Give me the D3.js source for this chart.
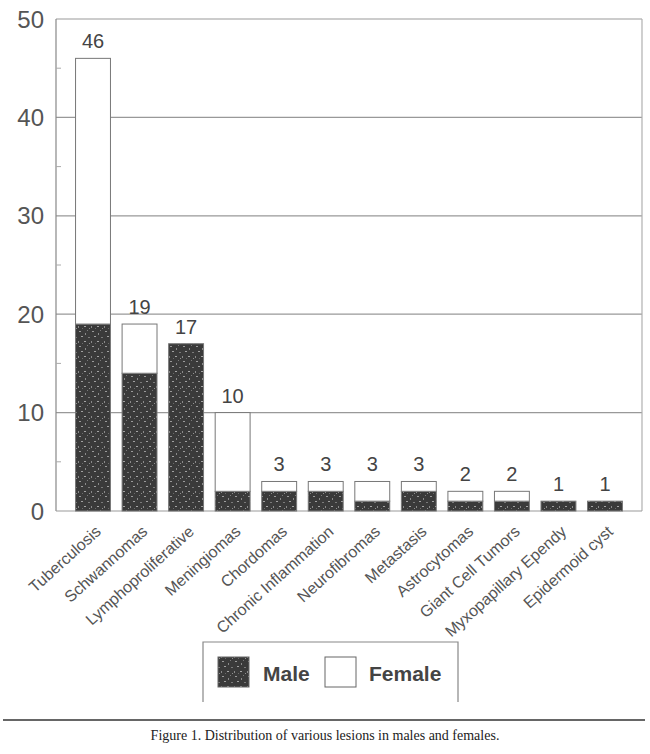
<!DOCTYPE html>
<html><head><meta charset="utf-8">
<script src="https://cdn.jsdelivr.net/npm/d3@7"></script>
<style>body{margin:0;background:#fff}svg{display:block}</style>
</head><body>
<svg id="c" width="650" height="754"></svg>
<script>
const categories = ["Tuberculosis","Schwannomas","Lymphoproliferative","Meningiomas","Chordomas","Chronic Inflammation","Neurofibromas","Metastasis","Astrocytomas","Giant Cell Tumors","Myxopapillary Ependy","Epidermoid cyst"];
const male   = [19,14,17,2,2,2,1,2,1,1,1,1];
const female = [27,5,0,8,1,1,2,1,1,1,0,0];
const totals = [46,19,17,10,3,3,3,3,2,2,1,1];
const yTicks = [0,10,20,30,40,50];
const minorTicks = [5,15,25,35,45];
const seriesNames = ["Male","Female"];

const svg = d3.select("#c");
const L=56, R=642, T=19, B=511;
const x = d3.scaleBand().domain(categories).range([L,R]).paddingInner(0.25).paddingOuter(0.42);
const y = d3.scaleLinear().domain([0,50]).range([B,T]);

// speckle pattern
const defs = svg.append("defs");
const pat = defs.append("pattern").attr("id","speck").attr("patternUnits","userSpaceOnUse").attr("width",13).attr("height",15);
pat.append("rect").attr("width",13).attr("height",15).attr("fill","#3a3a3a");
[[1,1,2,1,"#9a9a9a"],[7,3,1,2,"#8a8a8a"],[3,6,2,1,"#a0a0a0"],[10,7,2,1,"#7a7a7a"],[0,11,1,2,"#8a8a8a"],[6,11,2,1,"#a5a5a5"],[11,13,1,1,"#909090"],[4,13,1,1,"#6a6a6a"],[9,0,1,1,"#7a7a7a"]].forEach(d=>{
  pat.append("rect").attr("x",d[0]).attr("y",d[1]).attr("width",d[2]).attr("height",d[3]).attr("fill",d[4]);
});

// gridlines
svg.append("g").selectAll("line").data(yTicks.filter(d=>d>0)).join("line")
  .attr("x1",L).attr("x2",R).attr("y1",d=>y(d)).attr("y2",d=>y(d))
  .attr("stroke","#999").attr("stroke-width",1.2);
// frame
svg.append("line").attr("x1",R).attr("x2",R).attr("y1",T).attr("y2",B).attr("stroke","#b0b0b0").attr("stroke-width",1.2);
svg.append("line").attr("x1",L).attr("x2",L).attr("y1",T).attr("y2",B).attr("stroke","#888").attr("stroke-width",1.2);
svg.append("line").attr("x1",L).attr("x2",R).attr("y1",B).attr("y2",B).attr("stroke","#999").attr("stroke-width",1.2);
// minor ticks
svg.append("g").selectAll("line").data(minorTicks).join("line")
  .attr("x1",L).attr("x2",L+5).attr("y1",d=>y(d)).attr("y2",d=>y(d)).attr("stroke","#aaa");

// y labels
svg.append("g").selectAll("text").data(yTicks).join("text")
  .attr("x",L-12).attr("y",d=>y(d)).attr("dy","0.36em").attr("text-anchor","end")
  .attr("font-family","Liberation Sans, Arial, sans-serif").attr("font-size",24).attr("fill","#555")
  .text(d=>d);

// bars
const stackData = categories.map((c,i)=>({cat:c, Male:male[i], Female:female[i]}));
const stacked = d3.stack().keys(seriesNames)(stackData);
const fills = {Male:"url(#speck)", Female:"#fff"};
svg.append("g").selectAll("g").data(stacked).join("g")
  .attr("fill",d=>fills[d.key])
  .selectAll("rect").data(d=>d.filter(s=>s[1]>s[0])).join("rect")
  .attr("x",d=>x(d.data.cat)).attr("width",x.bandwidth())
  .attr("y",d=>y(d[1])).attr("height",d=>y(d[0])-y(d[1]))
  .attr("stroke","#777").attr("stroke-width",1);

// value labels
svg.append("g").selectAll("text").data(categories).join("text")
  .attr("x",d=>x(d)+x.bandwidth()/2).attr("y",(d,i)=>y(totals[i])-10)
  .attr("text-anchor","middle").attr("font-family","Liberation Sans, Arial, sans-serif")
  .attr("font-size",20).attr("fill","#444").text((d,i)=>totals[i]);

// x labels
svg.append("g").selectAll("text").data(categories).join("text")
  .attr("transform",d=>`translate(${x(d)+x.bandwidth()/2+9},${B+22}) rotate(-42)`)
  .attr("text-anchor","end").attr("font-family","Liberation Sans, Arial, sans-serif")
  .attr("font-size",16).attr("fill","#555").text(d=>d);

// legend
const lg = svg.append("g");
lg.append("path").attr("d","M203,702 V642 H458 V702").attr("fill","none").attr("stroke","#888").attr("stroke-width",1.2);
const legendItems = [{k:"Male",sx:218,tx:263},{k:"Female",sx:325,tx:369}];
legendItems.forEach(it=>{
  lg.append("rect").attr("x",it.sx).attr("y",657).attr("width",31).attr("height",30)
    .attr("fill",fills[it.k]).attr("stroke","#666").attr("stroke-width",1);
  lg.append("text").attr("x",it.tx).attr("y",681).attr("font-family","Liberation Sans, Arial, sans-serif")
    .attr("font-weight","bold").attr("font-size",21).attr("fill","#444").text(it.k);
});

// caption
svg.append("line").attr("x1",3).attr("x2",645).attr("y1",720).attr("y2",720).attr("stroke","#333").attr("stroke-width",1.5);
svg.append("text").attr("x",325).attr("y",740).attr("text-anchor","middle")
  .attr("font-family","Liberation Serif, Times New Roman, serif").attr("font-size",14).attr("fill","#222")
  .text("Figure 1. Distribution of various lesions in males and females.");
</script>
</body></html>
